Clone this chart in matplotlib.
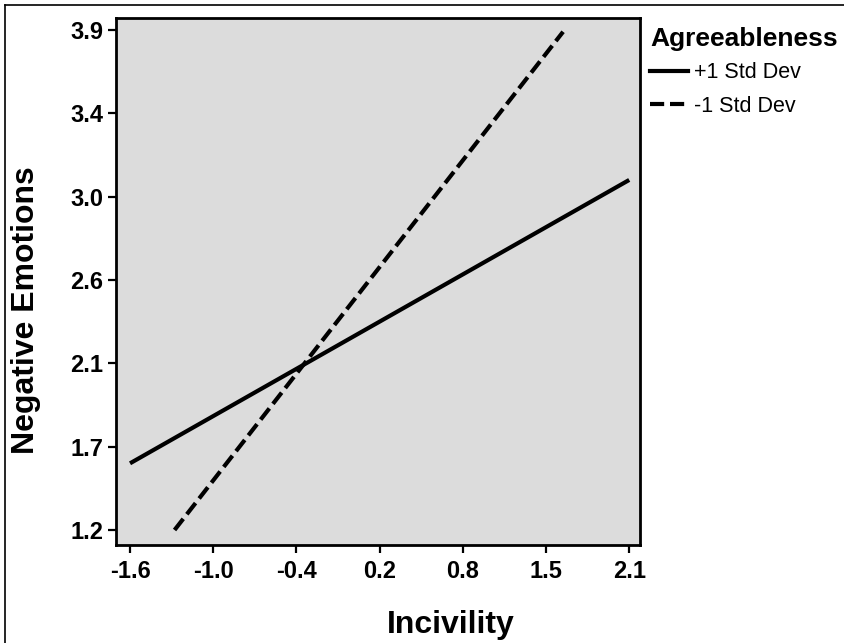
import numpy as np
import matplotlib
matplotlib.use("Agg")
import matplotlib.pyplot as plt
from matplotlib.lines import Line2D

plt.rcParams["font.family"] = ["Liberation Sans", "DejaVu Sans"]

# simple slopes: incivility -> negative emotions at +/-1 SD agreeableness
high_x = [-1.6, 2.1]
high_y = [1.56, 3.09]
low_x = [-1.27, 1.61]
low_y = [1.20, 3.89]
series_labels = ["+1 Std Dev", "-1 Std Dev"]

xtick_labels = ["-1.6", "-1.0", "-0.4", "0.2", "0.8", "1.5", "2.1"]
ytick_labels = ["1.2", "1.7", "2.1", "2.6", "3.0", "3.4", "3.9"]
x_lo, x_hi = -1.6, 2.1
y_lo, y_hi = 1.2, 3.9

W, H = 845, 643
fig = plt.figure(figsize=(W / 100, H / 100), dpi=100)
ax = fig.add_axes([116 / W, 1 - 545 / H, (640 - 116) / W, (545 - 17.7) / H])
ax.set_facecolor("#dcdcdc")

dash = (0, (3.4, 1.4))
ax.plot(high_x, high_y, c="black", lw=3, solid_capstyle="butt")
ax.plot(low_x, low_y, c="black", lw=3, ls=dash)

ax.set_xlim(-1.704, 2.18)
ax.set_ylim(1.119, 3.966)
ax.set_xticks(np.linspace(x_lo, x_hi, len(xtick_labels)))
ax.set_xticklabels(xtick_labels)
ax.set_yticks(np.linspace(y_lo, y_hi, len(ytick_labels)))
ax.set_yticklabels(ytick_labels)
for s in ax.spines.values():
    s.set_linewidth(2)
ax.tick_params(direction="out", length=6, width=1.6, labelsize=17)
ax.tick_params(axis="x", pad=5)
ax.tick_params(axis="y", pad=3)
for t in ax.get_xticklabels() + ax.get_yticklabels():
    t.set_fontweight("bold")

ax.set_xlabel("Incivility", fontsize=23, fontweight="bold")
ax.set_ylabel("Negative Emotions", fontsize=23, fontweight="bold")
ax.xaxis.set_label_coords((451 - 116) / 524, -(610 - 545) / 527.3)
ax.yaxis.set_label_coords(-(116 - 41) / 524, (545 - 310) / 527.3)

handles = [Line2D([], [], c="black", lw=3),
           Line2D([], [], c="black", lw=3, ls=dash)]
leg = ax.legend(handles, series_labels, title="Agreeableness",
                loc="upper left", bbox_to_anchor=(650 / W, 1 - 27 / H),
                bbox_transform=fig.transFigure, frameon=False, borderpad=0,
                borderaxespad=0, fontsize=15.5, handlelength=1.75,
                handletextpad=0.3, labelspacing=0.6)
leg.get_title().set_fontsize(19)
leg.get_title().set_fontweight("bold")
leg._legend_box.align = "left"
leg._legend_box.sep = 8

# page border of the cropped figure
fig.add_artist(Line2D([5 / W, 1], [1 - 5 / H, 1 - 5 / H], c="black", lw=1.2))
fig.add_artist(Line2D([5 / W, 5 / W], [0, 1 - 5 / H], c="black", lw=1.2))

fig.savefig("out.png", dpi=100)
